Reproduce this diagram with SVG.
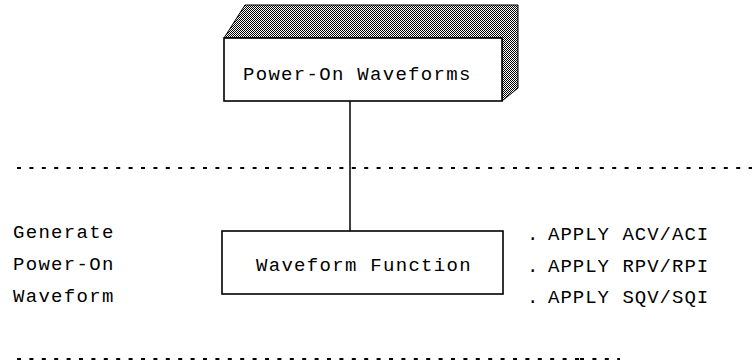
<svg xmlns="http://www.w3.org/2000/svg" width="752" height="361" viewBox="0 0 752 361">
<defs>
<pattern id="checker" width="2" height="2" patternUnits="userSpaceOnUse">
<rect width="2" height="2" fill="#fff"/>
<rect x="0" y="0" width="1" height="1" fill="#000"/>
<rect x="1" y="1" width="1" height="1" fill="#000"/>
</pattern>
</defs>
<style>
.box{fill:#fff;stroke:#000;stroke-width:1.6}
.lbl{font-family:"Liberation Mono","DejaVu Sans Mono",monospace;font-size:19px;letter-spacing:1.3px;fill:#000}
.rt{letter-spacing:1px}
.dots{stroke:#000;stroke-width:2;stroke-dasharray:4 8.4;fill:none}
.conn{stroke:#000;stroke-width:1.5;fill:none}
</style>
<rect width="752" height="361" fill="#fff"/>
<g id="separators">
<line class="dots" x1="17" y1="168" x2="752" y2="168"/>
<line class="dots" x1="17" y1="359" x2="580" y2="359"/>
<line class="dots" x1="580" y1="359" x2="620" y2="359" stroke="#999"/>
</g>
<g id="connectors">
<line class="conn" x1="350" y1="101" x2="350" y2="231"/>
</g>
<g id="node-power-on-waveforms">
<polygon points="224,38 245,5 518,5 518,88 502,101 502,38" fill="url(#checker)" stroke="#000" stroke-width="1"/>
<rect class="box" x="224" y="38" width="278" height="63"/>
<text class="lbl" x="243" y="80">Power-On Waveforms</text>
</g>
<g id="node-waveform-function">
<rect class="box" x="222" y="231" width="281" height="63"/>
<text class="lbl" x="256" y="271">Waveform Function</text>
</g>
<g id="left-labels">
<text class="lbl" x="13" y="238">Generate</text>
<text class="lbl" x="13" y="270">Power-On</text>
<text class="lbl" x="13" y="302">Waveform</text>
</g>
<g id="right-labels">
<text class="lbl" x="527" y="240">.</text>
<text class="lbl rt" x="548" y="240">APPLY ACV/ACI</text>
<text class="lbl" x="527" y="272">.</text>
<text class="lbl rt" x="548" y="272">APPLY RPV/RPI</text>
<text class="lbl" x="527" y="303">.</text>
<text class="lbl rt" x="548" y="303">APPLY SQV/SQI</text>
</g>
</svg>
